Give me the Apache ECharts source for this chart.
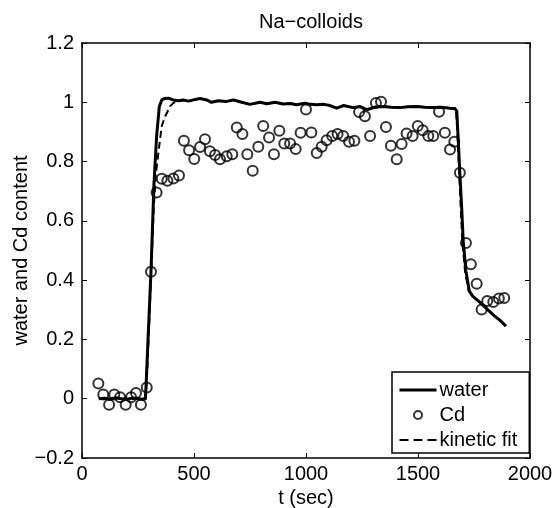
<!DOCTYPE html>
<html>
<head>
<meta charset="utf-8">
<script src="https://cdn.jsdelivr.net/npm/echarts@6/dist/echarts.min.js"></script>
<style>
html,body{margin:0;padding:0;background:#fff;}
#chart{width:556px;height:508px;}
</style>
</head>
<body>
<div id="chart"></div>
<script>
// ---- data ----
const xTickLabels = ['0', '500', '1000', '1500', '2000'];
const yTickLabels = ['\u22120.2', '0', '0.2', '0.4', '0.6', '0.8', '1', '1.2'];

const waterTime = [75,100,125,150,175,200,225,250,270,283,286,297,308,321,333,345,356,370,386,407,430,452,475,497,527,557,578,608,646,676,713,750,795,825,862,898,930,958,996,1020,1048,1080,1107,1137,1167,1211,1240,1271,1310,1345,1380,1419,1455,1494,1530,1568,1605,1643,1665,1673,1680,1687,1695,1702,1714,1729,1745,1777,1805,1836,1865,1893];
const waterValue = [0,0.002,-0.002,0.003,0,-0.002,0.002,0,-0.002,0,0.045,0.24,0.43,0.72,0.885,0.985,1.008,1.013,1.014,1.008,1.005,1.008,1.004,1.008,1.013,1.008,1.0,1.005,1.003,1.008,1.0,0.993,1.0,0.995,1.0,0.994,0.996,0.992,0.997,0.993,0.992,0.993,0.989,0.98,0.989,0.982,0.986,0.975,0.984,0.986,0.983,0.982,0.985,0.986,0.983,0.982,0.983,0.98,0.979,0.97,0.87,0.757,0.645,0.53,0.43,0.363,0.345,0.325,0.305,0.283,0.265,0.245];

const cdTime = [73,95,121,144,170,195,219,241,263,289,308,333,356,381,408,433,455,478,501,527,549,571,594,616,646,671,691,716,738,762,787,809,835,857,881,903,929,954,976,1000,1024,1048,1070,1092,1117,1141,1166,1192,1216,1237,1263,1286,1312,1335,1357,1379,1405,1427,1449,1476,1499,1521,1546,1568,1594,1620,1643,1662,1687,1714,1736,1762,1784,1809,1836,1861,1885];
const cdValue = [0.051,0.014,-0.020,0.014,0.005,-0.020,0.005,0.019,-0.020,0.038,0.428,0.696,0.742,0.735,0.743,0.753,0.870,0.838,0.809,0.849,0.875,0.835,0.822,0.808,0.818,0.825,0.915,0.893,0.825,0.769,0.850,0.920,0.881,0.825,0.904,0.861,0.861,0.842,0.897,0.976,0.898,0.829,0.850,0.872,0.886,0.893,0.886,0.867,0.870,0.967,0.953,0.886,0.998,1.002,0.917,0.853,0.808,0.859,0.895,0.886,0.920,0.906,0.886,0.886,0.968,0.897,0.841,0.867,0.762,0.525,0.454,0.388,0.301,0.330,0.326,0.338,0.340];

const fitTime = [75,283,290,300,308,320,330,341,356,371,393,408,430,452,475,497,527,557,578,608,646,676,713,750,795,825,862,898,930,958,996,1020,1048,1080,1107,1137,1167,1211,1240,1271,1310,1345,1380,1419,1455,1494,1530,1568,1605,1643,1665,1671,1677,1684,1691,1698,1710,1726,1745,1777,1805,1836,1865,1893];
const fitValue = [0,0,0.07,0.25,0.41,0.64,0.76,0.83,0.92,0.952,0.986,0.998,1.004,1.008,1.004,1.008,1.013,1.008,1.0,1.005,1.003,1.008,1.0,0.993,1.0,0.995,1.0,0.994,0.996,0.992,0.997,0.993,0.992,0.993,0.989,0.98,0.989,0.982,0.986,0.975,0.984,0.986,0.983,0.982,0.985,0.986,0.983,0.982,0.983,0.98,0.979,0.96,0.88,0.76,0.64,0.53,0.43,0.365,0.345,0.325,0.305,0.283,0.265,0.245];

// ---- chart ----
const zip = (a, b) => a.map((v, i) => [v, b[i]]);
const FONT = 'Liberation Sans, Arial, Helvetica, sans-serif';
const chart = echarts.init(document.getElementById('chart'), null, {renderer: 'canvas'});

const axisLine = {show: true, onZero: false, lineStyle: {color: '#000', width: 1.5}};
const tick = {show: true, inside: true, length: 5, lineStyle: {color: '#000', width: 1}};

const xBase = {
  type: 'value', min: 0, max: 2000, interval: 500,
  axisLine: axisLine, axisTick: tick, splitLine: {show: false}
};
const yBase = {
  type: 'value', min: -0.2, max: 1.2, interval: 0.2,
  axisLine: axisLine, axisTick: tick, splitLine: {show: false}
};
const noSymbol = {color: 'rgba(0,0,0,0)', borderColor: 'rgba(0,0,0,0)', borderWidth: 0};

chart.setOption({
  animation: false,
  backgroundColor: '#fff',
  textStyle: {fontFamily: FONT},
  title: {
    text: 'Na\u2212colloids',
    left: 254, top: 7,
    textStyle: {fontFamily: FONT, fontSize: 20, fontWeight: 'normal', color: '#000'}
  },
  grid: {left: 82, right: 26, top: 43, bottom: 50, outerBoundsMode: 'none', containLabel: false},
  xAxis: [
    Object.assign({}, xBase, {
      position: 'bottom',
      name: 't (sec)', nameLocation: 'middle', nameGap: 16,
      nameTextStyle: {fontFamily: FONT, fontSize: 20, color: '#000'},
      axisLabel: {
        show: true, margin: 6, color: '#000', fontFamily: FONT, fontSize: 20,
        formatter: (v) => xTickLabels[Math.round(v / 500)]
      }
    }),
    Object.assign({}, xBase, {position: 'top', axisLabel: {show: false}})
  ],
  yAxis: [
    Object.assign({}, yBase, {
      position: 'left',
      name: 'water and Cd content', nameLocation: 'middle', nameGap: 51, nameMoveOverlap: false,
      nameTextStyle: {fontFamily: FONT, fontSize: 20, color: '#000'},
      axisLabel: {
        show: true, margin: 8, color: '#000', fontFamily: FONT, fontSize: 20,
        formatter: (v) => yTickLabels[Math.round((v + 0.2) / 0.2)]
      }
    }),
    Object.assign({}, yBase, {position: 'right', axisLabel: {show: false}})
  ],
  legend: {
    orient: 'vertical',
    left: 392, top: 372,
    padding: [8, 12, 3, 6],
    itemGap: 5,
    itemWidth: 37, itemHeight: 8,
    backgroundColor: '#fff',
    borderColor: '#000', borderWidth: 1.5, borderRadius: 0,
    textStyle: {fontFamily: FONT, fontSize: 20, color: '#000', padding: [0, 0, 0, -2]},
    data: [
      {name: 'water', itemStyle: noSymbol, lineStyle: {color: '#000', width: 3, type: 'solid'}},
      {name: 'Cd'},
      {name: 'kinetic fit', itemStyle: noSymbol, lineStyle: {color: '#000', width: 2, type: [9, 5]}}
    ]
  },
  series: [
    {
      name: 'water', type: 'line', xAxisIndex: 0, yAxisIndex: 0,
      data: zip(waterTime, waterValue),
      symbol: 'none', showSymbol: false,
      lineStyle: {color: '#000', width: 3, join: 'round'},
      itemStyle: {color: '#000'},
      z: 2
    },
    {
      name: 'Cd', type: 'scatter', xAxisIndex: 0, yAxisIndex: 0,
      data: zip(cdTime, cdValue),
      symbol: 'circle', symbolSize: 10,
      itemStyle: {color: 'rgba(255,255,255,0)', borderColor: '#000', borderWidth: 2},
      z: 3
    },
    {
      name: 'kinetic fit', type: 'line', xAxisIndex: 0, yAxisIndex: 0,
      data: zip(fitTime, fitValue),
      symbol: 'none', showSymbol: false,
      lineStyle: {color: '#000', width: 2, type: [7, 4]},
      itemStyle: {color: '#000'},
      z: 2
    }
  ]
});
</script>
</body>
</html>
